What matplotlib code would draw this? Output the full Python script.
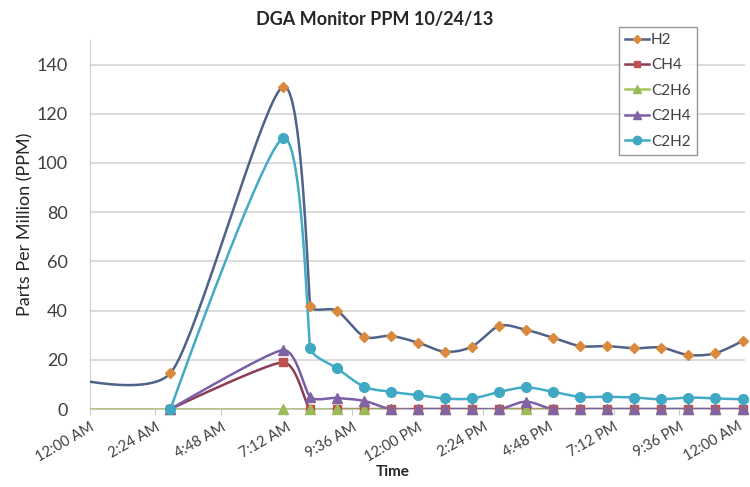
import numpy as np
import matplotlib
matplotlib.use("Agg")
import matplotlib.pyplot as plt
from matplotlib.lines import Line2D

plt.rcParams['font.family'] = ['Lato', 'DejaVu Sans']

# sample times in hours after midnight 10/24/13 (first one is late on the previous day)
hours = [-2.0, 2.95, 7.07, 8.07, 9.05, 10.05, 11.03, 12.02, 13.02, 14.0, 15.0,
         15.98, 16.97, 17.97, 18.95, 19.95, 20.93, 21.93, 22.92, 23.92]

h2 = [16, 14.6, 131, 42, 40, 29.4, 29.7, 27.0, 23.3, 25.4, 33.8, 32.2, 29.0,
      25.6, 25.6, 24.7, 25.0, 22.0, 22.7, 27.7]
ch4 = [np.nan, 0, 19, 0, 0, 0, 0, 0, 0, 0, 0, 0, 0, 0, 0, 0, 0, 0, 0, 0]
c2h6 = [0, 0, 0, 0, 0, 0, 0, 0, 0, 0, 0, 0, 0, 0, 0, 0, 0, 0, 0, 0]
c2h4 = [np.nan, 0, 24, 5, 4.5, 3.3, 0, 0, 0, 0, 0, 3, 0, 0, 0, 0, 0, 0, 0, 0]
c2h2 = [np.nan, 0, 110, 25, 16.6, 9.1, 7.0, 5.7, 4.3, 4.3, 7.0, 8.8, 7.0,
        5.0, 5.0, 4.7, 4.0, 4.7, 4.3, 4.0]

tick_hours = [0, 2.4, 4.8, 7.2, 9.6, 12, 14.4, 16.8, 19.2, 21.6, 24]
tick_labels = ["12:00 AM", "2:24 AM", "4:48 AM", "7:12 AM", "9:36 AM", "12:00 PM",
               "2:24 PM", "4:48 PM", "7:12 PM", "9:36 PM", "12:00 AM"]

series = [
    ("H2", h2, "#4f6288", "#d98a3c", "D", 5.5),
    ("CH4", ch4, "#8e3b55", "#c0504d", "s", 6),
    ("C2H6", c2h6, "#a3c45a", "#9bbb59", "^", 6.5),
    ("C2H4", c2h4, "#7a5ea6", "#8064a2", "^", 6.5),
    ("C2H2", c2h2, "#44abc6", "#3fa9c4", "o", 7),
]

fig = plt.figure(figsize=(7.5, 4.87), dpi=100)
ax_box = [0.12, 0.16, 0.873, 0.758]
ax = fig.add_axes(ax_box)
xmin, xmax, ymin, ymax = 0, 24, 0, 150
# pixels per data unit, so the smoothing is done in screen space
kx = ax_box[2] * 750 / (xmax - xmin)
ky = ax_box[3] * 487 / (ymax - ymin)


def smooth(x, y, n=40):
    # excel-like smoothed line: bezier through the points, tangents shortened
    # next to short segments so there is little overshoot
    P = np.column_stack([np.asarray(x) * kx, np.asarray(y) * ky])
    P = np.vstack([P[:1], P, P[-1:]])
    s = np.linspace(0, 1, n)[:, None]

    def tangent(i):
        d0 = np.linalg.norm(P[i] - P[i - 1])
        d1 = np.linalg.norm(P[i + 1] - P[i])
        f = 1.0 if d0 + d1 == 0 else 2 * min(d0, d1) / (d0 + d1)
        return (P[i + 1] - P[i - 1]) / 6 * f

    out = []
    for i in range(1, len(P) - 2):
        p1, p2 = P[i], P[i + 1]
        c1 = p1 + tangent(i)
        c2 = p2 - tangent(i + 1)
        b = ((1 - s) ** 3) * p1 + 3 * ((1 - s) ** 2) * s * c1 + 3 * (1 - s) * s ** 2 * c2 + s ** 3 * p2
        out.append(b)
    out = np.vstack(out)
    return out[:, 0] / kx, out[:, 1] / ky


t = np.array(hours)
handles = []
for name, vals, lc, mc, mk, ms in series:
    v = np.array(vals, dtype=float)
    ok = ~np.isnan(v)
    sx, sy = smooth(t[ok], v[ok])
    ax.plot(sx, sy, color=lc, lw=1.8, zorder=3)
    vis = ok & (t >= 0)
    ax.plot(t[vis], v[vis], ls="none", marker=mk, ms=ms, color=mc,
            markeredgecolor=mc, zorder=4, clip_on=False)
    handles.append(Line2D([], [], color=lc, lw=1.8, marker=mk, ms=ms - 1,
                          markerfacecolor=mc, markeredgecolor=mc))

ax.set_xlim(xmin, xmax)
ax.set_ylim(ymin, ymax)
ax.set_yticks(range(0, 141, 20))
ax.set_xticks(tick_hours)
# last label is drawn separately, nudged left so it stays inside the picture
ax.set_xticklabels(tick_labels[:-1] + [""], rotation=30, ha="right",
                   rotation_mode="anchor", fontsize=10.5, color="#404040")
ax.annotate(tick_labels[-1], xy=(tick_hours[-1], 0), xycoords=("data", "axes fraction"),
            xytext=(-5, -7), textcoords="offset points", rotation=30, ha="right",
            va="top", rotation_mode="anchor", fontsize=10.5, color="#404040",
            annotation_clip=False)
ax.tick_params(axis="y", length=0, pad=16, labelsize=13, labelcolor="#404040")
ax.tick_params(axis="x", length=4, color="#c8c8c8", pad=4)
ax.grid(axis="y", color="#d9d9d9", lw=1.3)
ax.set_axisbelow(True)
for sp in ["top", "right"]:
    ax.spines[sp].set_visible(False)
ax.spines["left"].set_color("#d0d0d0")
ax.spines["bottom"].set_color("#c8c8c8")

ax.set_ylabel("Parts Per Million (PPM)", fontsize=13, color="#262626", labelpad=2)
fig.text(0.524, 0.022, "Time", fontsize=11, fontweight="bold", color="#262626", ha="center")
fig.text(0.5, 0.959, "DGA Monitor PPM 10/24/13", fontsize=13, fontweight="bold",
         color="#262626", ha="center", va="center")

leg = fig.legend(handles, [s[0] for s in series], loc="upper left",
                 bbox_to_anchor=(0.825, 0.945), fontsize=11, frameon=True,
                 fancybox=False, handlelength=1.6, handletextpad=0.1,
                 labelspacing=0.75, borderpad=0.4, borderaxespad=0)
leg.get_frame().set_edgecolor("#7f7f7f")
leg.get_frame().set_linewidth(1)
for txt in leg.get_texts():
    txt.set_color("#404040")

fig.savefig("out.png", dpi=100)
